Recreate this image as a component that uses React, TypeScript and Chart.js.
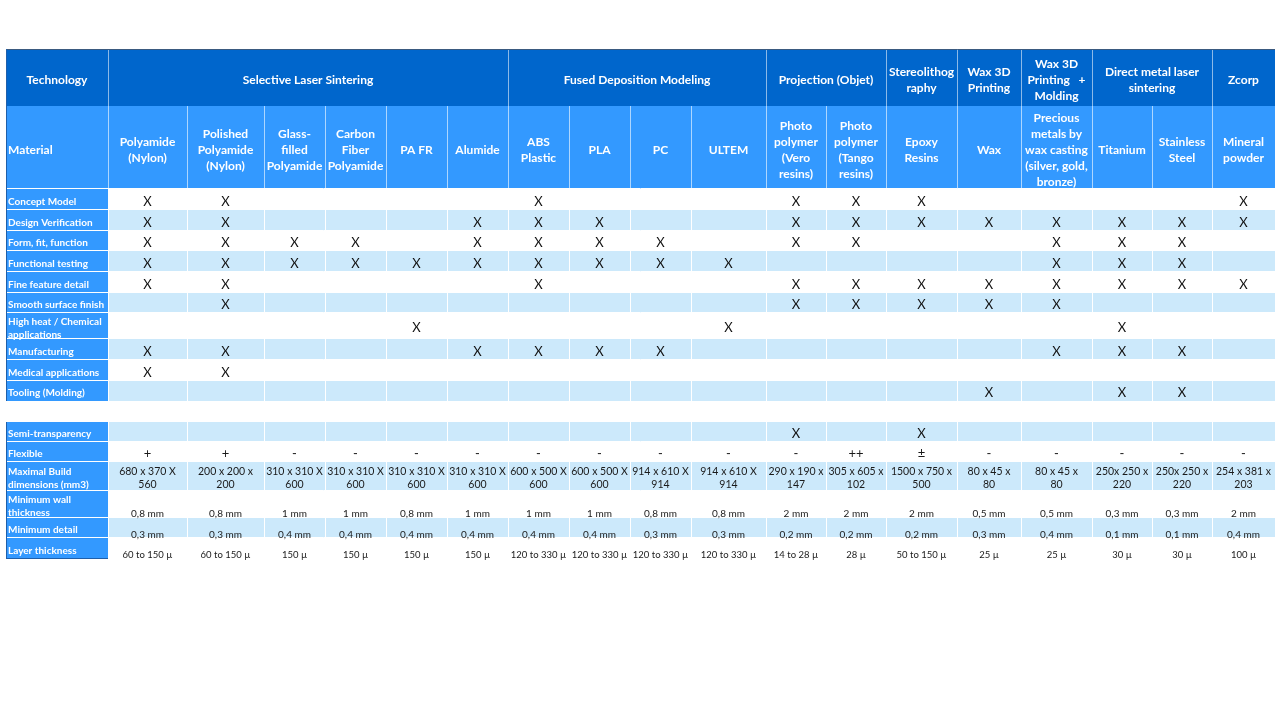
import React, { useEffect, useRef } from "react";
import { Chart, registerables } from "chart.js";

Chart.register(...registerables);

// ---------------- DATA ----------------
const technologyTitle = "Technology";
const materialTitle = "Material";

const technologies: string[][] = [
  ["Selective Laser Sintering"],
  ["Fused Deposition Modeling"],
  ["Projection (Objet)"],
  ["Stereolithog", "raphy"],
  ["Wax 3D", "Printing"],
  ["Wax 3D", "Printing   +", "Molding"],
  ["Direct metal laser", "sintering"],
  ["Zcorp"],
];
const technologySpans = [6, 4, 2, 1, 1, 1, 2, 1];

const materials: string[][] = [
  ["Polyamide", "(Nylon)"],
  ["Polished", "Polyamide", "(Nylon)"],
  ["Glass-", "filled", "Polyamide"],
  ["Carbon", "Fiber", "Polyamide"],
  ["PA FR"],
  ["Alumide"],
  ["ABS", "Plastic"],
  ["PLA"],
  ["PC"],
  ["ULTEM"],
  ["Photo", "polymer", "(Vero", "resins)"],
  ["Photo", "polymer", "(Tango", "resins)"],
  ["Epoxy", "Resins"],
  ["Wax"],
  ["Precious", "metals by", "wax casting", "(silver, gold,", "bronze)"],
  ["Titanium"],
  ["Stainless", "Steel"],
  ["Mineral", "powder"],
];

const applications: string[][] = [
  ["Concept Model"],
  ["Design Verification"],
  ["Form, fit, function"],
  ["Functional testing"],
  ["Fine feature detail"],
  ["Smooth surface finish"],
  ["High heat / Chemical", "applications"],
  ["Manufacturing"],
  ["Medical applications"],
  ["Tooling (Molding)"],
];

// material indices marked with "X" for each application
const applicationMarks: number[][] = [
  [0, 1, 6, 10, 11, 12, 17],
  [0, 1, 5, 6, 7, 10, 11, 12, 13, 14, 15, 16, 17],
  [0, 1, 2, 3, 5, 6, 7, 8, 10, 11, 14, 15, 16],
  [0, 1, 2, 3, 4, 5, 6, 7, 8, 9, 14, 15, 16],
  [0, 1, 6, 10, 11, 12, 13, 14, 15, 16, 17],
  [1, 10, 11, 12, 13, 14],
  [4, 9, 15],
  [0, 1, 5, 6, 7, 8, 14, 15, 16],
  [0, 1],
  [13, 15, 16],
];

const propertyLabels: string[][] = [
  ["Semi-transparency"],
  ["Flexible"],
  ["Maximal Build", "dimensions (mm3)"],
  ["Minimum wall", "thickness"],
  ["Minimum detail"],
  ["Layer thickness"],
];

const semiTransparencyMarks = [10, 12];

const flexibility = ["+", "+", "-", "-", "-", "-", "-", "-", "-", "-", "-", "++", "±", "-", "-", "-", "-", "-"];

const maxBuildDimensions: string[][] = [
  ["680 x 370 X", "560"],
  ["200 x 200 x", "200"],
  ["310 x 310 X", "600"],
  ["310 x 310 X", "600"],
  ["310 x 310 X", "600"],
  ["310 x 310 X", "600"],
  ["600 x 500 X", "600"],
  ["600 x 500 X", "600"],
  ["914 x 610 X", "914"],
  ["914 x 610 X", "914"],
  ["290 x 190 x", "147"],
  ["305 x 605 x", "102"],
  ["1500 x 750 x", "500"],
  ["80 x 45 x", "80"],
  ["80 x 45 x", "80"],
  ["250x 250 x", "220"],
  ["250x 250 x", "220"],
  ["254 x 381 x", "203"],
];

const minWallThickness = ["0,8 mm", "0,8 mm", "1 mm", "1 mm", "0,8 mm", "1 mm", "1 mm", "1 mm", "0,8 mm", "0,8 mm", "2 mm", "2 mm", "2 mm", "0,5 mm", "0,5 mm", "0,3 mm", "0,3 mm", "2 mm"];

const minDetail = ["0,3 mm", "0,3 mm", "0,4 mm", "0,4 mm", "0,4 mm", "0,4 mm", "0,4 mm", "0,4 mm", "0,3 mm", "0,3 mm", "0,2 mm", "0,2 mm", "0,2 mm", "0,3 mm", "0,4 mm", "0,1 mm", "0,1 mm", "0,4 mm"];

const layerThickness = ["60 to 150 µ", "60 to 150 µ", "150 µ", "150 µ", "150 µ", "150 µ", "120 to 330 µ", "120 to 330 µ", "120 to 330 µ", "120 to 330 µ", "14 to 28 µ", "28 µ", "50 to 150 µ", "25 µ", "25 µ", "30 µ", "30 µ", "100 µ"];

// ---------------- LAYOUT (sizes / styles) ----------------
const COL_W = [102, 79, 77, 61, 61, 61, 61, 61, 61, 61, 75, 60, 60, 71, 64, 71, 60, 60, 63];
const HEAD_H = [57, 83];
const APP_H = [21, 21, 20, 21, 21, 20, 26, 21, 21, 20];
const GAP_H = 21;
const PROP_H = [20, 20, 29, 27, 20, 21];
const DY = 2; // text baseline correction

const DARK = "#0066cc";
const MID = "#3399ff";
const LIGHT = "#cce9fb";
const FONT = "Lato, 'Open Sans', sans-serif";

const colEdges: number[] = [0];
COL_W.forEach((w) => colEdges.push(colEdges[colEdges.length - 1] + w));
const TOTAL_W = colEdges[colEdges.length - 1];

type Row = { top: number; bottom: number; shaded: boolean; kind: string; index: number };
const rows: Row[] = [];
{
  let y = HEAD_H[0] + HEAD_H[1];
  APP_H.forEach((h, i) => {
    rows.push({ top: y, bottom: y + h, shaded: i % 2 === 1, kind: "app", index: i });
    y += h;
  });
  rows.push({ top: y, bottom: y + GAP_H, shaded: false, kind: "gap", index: 0 });
  y += GAP_H;
  PROP_H.forEach((h, i) => {
    rows.push({ top: y, bottom: y + h, shaded: i % 2 === 0, kind: "prop", index: i });
    y += h;
  });
}
const TOTAL_H = rows[rows.length - 1].bottom;

const appRows = rows.filter((r) => r.kind === "app");
const propRows = rows.filter((r) => r.kind === "prop");

const colCenter = (c: number) => (colEdges[c + 1] + colEdges[c + 2]) / 2;
const rowCenter = (r: Row) => (r.top + r.bottom) / 2;

const markPoints: { x: number; y: number }[] = [];
applicationMarks.forEach((cols, i) => {
  cols.forEach((c) => markPoints.push({ x: colCenter(c), y: rowCenter(appRows[i]) }));
});
semiTransparencyMarks.forEach((c) => markPoints.push({ x: colCenter(c), y: rowCenter(propRows[0]) }));

function drawLines(ctx: CanvasRenderingContext2D, lines: string[], x: number, cy: number, lh: number) {
  const start = cy - ((lines.length - 1) * lh) / 2;
  lines.forEach((l, i) => ctx.fillText(l, x, start + i * lh));
}

const tablePlugin = {
  id: "tableGrid",
  beforeDatasetsDraw(chart: any) {
    const ctx: CanvasRenderingContext2D = chart.ctx;
    const xs = chart.scales.x;
    const ys = chart.scales.y;
    const X = (u: number) => xs.getPixelForValue(u);
    const Y = (u: number) => ys.getPixelForValue(u);
    const L = X(0), R = X(TOTAL_W);
    const h1t = Y(0), h1b = Y(HEAD_H[0]), h2b = Y(HEAD_H[0] + HEAD_H[1]);
    ctx.save();

    // backgrounds
    ctx.fillStyle = DARK;
    ctx.fillRect(L, h1t, R - L, h1b - h1t);
    ctx.fillStyle = MID;
    ctx.fillRect(L, h1b, R - L, h2b - h1b);
    rows.forEach((r) => {
      const t = Y(r.top), b = Y(r.bottom);
      if (r.kind === "gap") return;
      ctx.fillStyle = MID;
      ctx.fillRect(L, t, X(colEdges[1]) - L, b - t);
      ctx.fillStyle = r.shaded ? LIGHT : "#ffffff";
      ctx.fillRect(X(colEdges[1]), t, R - X(colEdges[1]), b - t);
    });

    // grid lines
    const px = (v: number) => Math.round(v) + 0.5;
    ctx.lineWidth = 1;
    ctx.strokeStyle = "rgba(255,255,255,0.55)";
    let c = 1;
    const groupEdges = [1];
    technologySpans.forEach((s) => { c += s; groupEdges.push(c); });
    groupEdges.slice(0, -1).forEach((e) => {
      ctx.beginPath();
      ctx.moveTo(px(X(colEdges[e])), h1t);
      ctx.lineTo(px(X(colEdges[e])), h1b);
      ctx.stroke();
    });
    ctx.strokeStyle = "rgba(255,255,255,0.6)";
    for (let i = 1; i < colEdges.length - 1; i++) {
      ctx.beginPath();
      ctx.moveTo(px(X(colEdges[i])), h1b);
      ctx.lineTo(px(X(colEdges[i])), h2b);
      ctx.stroke();
    }
    ctx.strokeStyle = "#ffffff";
    rows.forEach((r) => {
      if (r.kind === "gap") return;
      const t = Y(r.top), b = Y(r.bottom);
      for (let i = 1; i < colEdges.length - 1; i++) {
        ctx.beginPath();
        ctx.moveTo(px(X(colEdges[i])), t);
        ctx.lineTo(px(X(colEdges[i])), b);
        ctx.stroke();
      }
      ctx.beginPath();
      ctx.moveTo(L, px(t) - 1);
      ctx.lineTo(R, px(t) - 1);
      ctx.stroke();
    });
    // outer borders
    ctx.strokeStyle = "#3a5a80";
    ctx.beginPath();
    ctx.moveTo(L, px(h1t));
    ctx.lineTo(R, px(h1t));
    ctx.stroke();
    ctx.strokeStyle = "#1f5faa";
    const gap = rows.find((r) => r.kind === "gap")!;
    ctx.beginPath();
    ctx.moveTo(px(L), h1t);
    ctx.lineTo(px(L), Y(gap.top));
    ctx.moveTo(px(L), Y(gap.bottom));
    ctx.lineTo(px(L), Y(TOTAL_H));
    ctx.stroke();
    ctx.beginPath();
    ctx.moveTo(L, px(Y(TOTAL_H)) - 1);
    ctx.lineTo(X(colEdges[1]), px(Y(TOTAL_H)) - 1);
    ctx.stroke();

    // header texts
    ctx.fillStyle = "#ffffff";
    ctx.textBaseline = "middle";
    ctx.font = `bold 12px ${FONT}`;
    ctx.textAlign = "center";
    const h1c = (h1t + h1b) / 2 + DY + 1;
    ctx.fillText(technologyTitle, (X(colEdges[0]) + X(colEdges[1])) / 2, h1c);
    technologies.forEach((lines, g) => {
      const a = X(colEdges[groupEdges[g]]), b = X(colEdges[groupEdges[g + 1]]);
      drawLines(ctx, lines, (a + b) / 2, h1c, 16);
    });
    const h2c = (h1b + h2b) / 2 + DY + 0.5;
    ctx.textAlign = "left";
    ctx.fillText(materialTitle, L + 2, h2c);
    ctx.textAlign = "center";
    materials.forEach((lines, i) => {
      drawLines(ctx, lines, X(colCenter(i)), h2c, 16);
    });

    // row labels
    ctx.font = `bold 10px ${FONT}`;
    ctx.textAlign = "left";
    appRows.forEach((r, i) => drawLines(ctx, applications[i], L + 2, (Y(r.top) + Y(r.bottom)) / 2 + DY, 13));
    propRows.forEach((r, i) => drawLines(ctx, propertyLabels[i], L + 2, (Y(r.top) + Y(r.bottom)) / 2 + DY, 13));

    // property values
    ctx.fillStyle = "#1a1a1a";
    ctx.textAlign = "center";
    const flexRow = propRows[1];
    ctx.font = `13px ${FONT}`;
    flexibility.forEach((v, i) => ctx.fillText(v, X(colCenter(i)), (Y(flexRow.top) + Y(flexRow.bottom)) / 2 + DY));
    const buildRow = propRows[2];
    ctx.font = `10.5px ${FONT}`;
    maxBuildDimensions.forEach((v, i) => drawLines(ctx, v, X(colCenter(i)), (Y(buildRow.top) + Y(buildRow.bottom)) / 2 + DY, 13));
    ctx.font = `10px ${FONT}`;
    minWallThickness.forEach((v, i) => ctx.fillText(v, X(colCenter(i)), Y(propRows[3].bottom) - 6 + DY));
    minDetail.forEach((v, i) => ctx.fillText(v, X(colCenter(i)), Y(propRows[4].bottom) - 5 + DY));
    ctx.font = `9.5px ${FONT}`;
    layerThickness.forEach((v, i) => ctx.fillText(v, X(colCenter(i)), Y(propRows[5].bottom) - 6 + DY));
    ctx.restore();
  },
  afterDatasetsDraw(chart: any) {
    const ctx: CanvasRenderingContext2D = chart.ctx;
    const meta = chart.getDatasetMeta(0);
    ctx.save();
    ctx.fillStyle = "#111111";
    ctx.font = `13px ${FONT}`;
    ctx.textAlign = "center";
    ctx.textBaseline = "middle";
    meta.data.forEach((el: any) => ctx.fillText("X", el.x, el.y + DY));
    ctx.restore();
  },
};

export default function App() {
  const ref = useRef<HTMLCanvasElement | null>(null);
  useEffect(() => {
    if (!ref.current) return;
    const chart = new Chart(ref.current, {
      type: "scatter",
      data: {
        datasets: [
          {
            label: "Suitable",
            data: markPoints,
            pointRadius: 0,
            pointHoverRadius: 0,
            showLine: false,
          },
        ],
      },
      options: {
        animation: false,
        responsive: false,
        events: [],
        layout: { padding: { left: 6, top: 49, right: 5, bottom: 161 } },
        scales: {
          x: { type: "linear", min: 0, max: TOTAL_W, display: false },
          y: { type: "linear", min: 0, max: TOTAL_H, reverse: true, display: false },
        },
        plugins: { legend: { display: false }, tooltip: { enabled: false } },
      },
      plugins: [tablePlugin],
    });
    return () => chart.destroy();
  }, []);
  return (
    <div style={{ position: "absolute", left: 0, top: 0, width: 1280, height: 720, background: "#fff" }}>
      <canvas ref={ref} width={1280} height={720} style={{ display: "block", width: 1280, height: 720 }} />
    </div>
  );
}
